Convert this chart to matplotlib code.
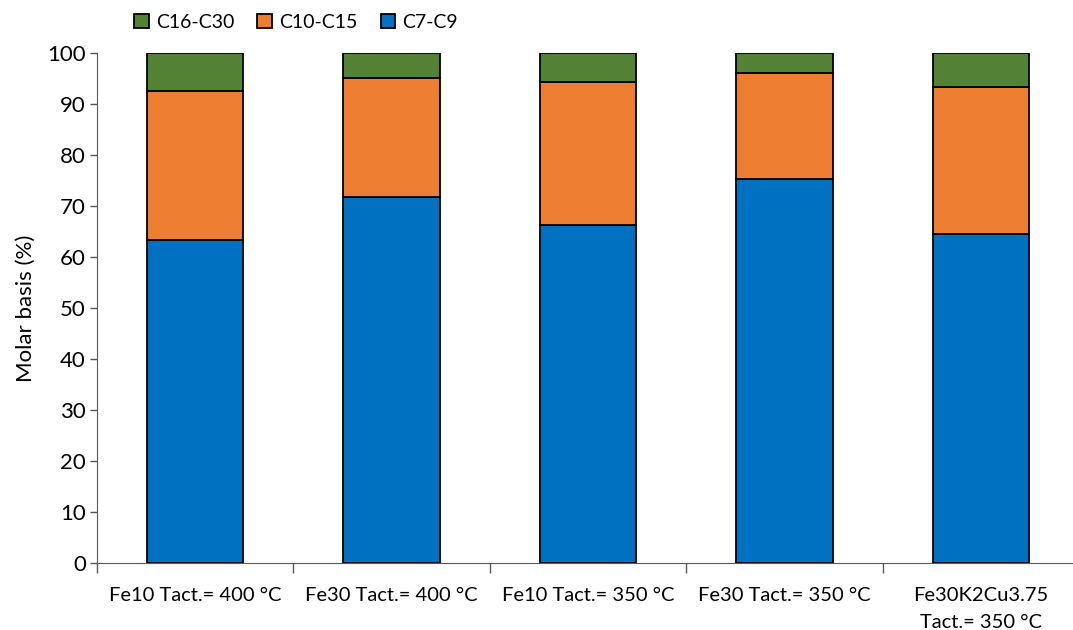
import matplotlib
matplotlib.use("Agg")
import matplotlib.pyplot as plt
import numpy as np

categories = ["Fe10 Tact.= 400 °C", "Fe30 Tact.= 400 °C", "Fe10 Tact.= 350 °C",
              "Fe30 Tact.= 350 °C", "Fe30K2Cu3.75\nTact.= 350 °C"]
c7_c9 = [63.3, 71.8, 66.3, 75.3, 64.5]
c10_c15 = [29.2, 23.3, 28.1, 20.8, 28.8]
c16_c30 = [7.5, 4.9, 5.6, 3.9, 6.7]

colors = {"C7-C9": "#0070C0", "C10-C15": "#ED7D31", "C16-C30": "#548235"}

plt.rcParams["font.family"] = ["Lato", "DejaVu Sans"]

fig = plt.figure(figsize=(10.73, 6.3), dpi=100)
ax = fig.add_axes([97 / 1073, 67 / 630, 982 / 1073, 510 / 630])

x = np.arange(len(categories))
w = 0.49
b1 = ax.bar(x, c7_c9, w, color=colors["C7-C9"], edgecolor="black", linewidth=1.3, label="C7-C9")
bottom2 = np.array(c7_c9)
b2 = ax.bar(x, c10_c15, w, bottom=bottom2, color=colors["C10-C15"], edgecolor="black",
            linewidth=1.3, label="C10-C15")
bottom3 = bottom2 + np.array(c10_c15)
b3 = ax.bar(x, c16_c30, w, bottom=bottom3, color=colors["C16-C30"], edgecolor="black",
            linewidth=1.3, label="C16-C30")

ax.set_xlim(-0.5, len(categories) - 0.5)
ax.set_ylim(0, 100)
ax.set_yticks(np.arange(0, 101, 10))
ax.tick_params(axis="y", labelsize=16, length=5, width=1, direction="out", pad=3)

ax.set_xticks(x)
ax.set_xticklabels(categories, fontsize=14.5, linespacing=1.75)
ax.tick_params(axis="x", which="major", length=0, pad=17)
ax.set_xticks(np.arange(-0.5, len(categories), 1.0), minor=True)
ax.tick_params(axis="x", which="minor", length=7, width=1, direction="out")

for s in ("top", "right"):
    ax.spines[s].set_visible(False)
ax.spines["left"].set_color("#595959")
ax.spines["bottom"].set_color("#595959")
ax.tick_params(axis="both", which="both", color="#595959")

ax.set_ylabel("Molar basis (%)", fontsize=16, labelpad=8)

fig.legend(handles=[b3, b2, b1], labels=["C16-C30", "C10-C15", "C7-C9"],
           loc="center", bbox_to_anchor=(296 / 1073, 1 - 22 / 630), ncol=3,
           frameon=False, fontsize=14, handlelength=0.75, handleheight=0.75,
           handletextpad=0.35, columnspacing=1.2)

fig.savefig("out.png", dpi=100)
